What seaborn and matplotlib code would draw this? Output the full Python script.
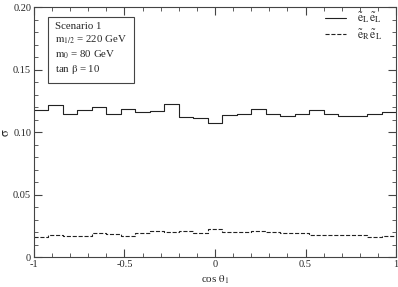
import numpy as np
import pandas as pd
import seaborn as sns
import matplotlib
matplotlib.use("Agg")
import matplotlib.pyplot as plt
from matplotlib.ticker import MultipleLocator

# 25 bins in cos(theta_1) from -1 to 1
n_bins = 25
bin_centers = np.linspace(-1, 1, n_bins + 1)[:-1] + 1.0 / n_bins

sigma_LL = [0.1178, 0.1220, 0.1148, 0.1182, 0.1204, 0.1146, 0.1188, 0.1162,
            0.1172, 0.1228, 0.1124, 0.1114, 0.1076, 0.1140, 0.1148, 0.1186,
            0.1146, 0.1132, 0.1148, 0.1178, 0.1146, 0.1132, 0.1132, 0.1148,
            0.1162]
sigma_RL = [0.0162, 0.0180, 0.0174, 0.0174, 0.0194, 0.0186, 0.0172, 0.0194,
            0.0210, 0.0202, 0.0214, 0.0198, 0.0226, 0.0204, 0.0204, 0.0214,
            0.0204, 0.0194, 0.0194, 0.0180, 0.0180, 0.0180, 0.0180, 0.0166,
            0.0172]

labels = [r"$\tilde{\mathrm{e}}_{\mathrm{L}}\,\tilde{\mathrm{e}}_{\mathrm{L}}$",
          r"$\tilde{\mathrm{e}}_{\mathrm{R}}\,\tilde{\mathrm{e}}_{\mathrm{L}}$"]
styles = ["-", "--"]

df = pd.DataFrame({
    "cos": np.concatenate([bin_centers, bin_centers]),
    "sigma": sigma_LL + sigma_RL,
    "channel": [labels[0]] * n_bins + [labels[1]] * n_bins,
})

sns.set_style("ticks")
plt.rcParams["font.family"] = ["Liberation Serif", "DejaVu Serif"]
plt.rcParams["mathtext.fontset"] = "stix"

fig = plt.figure(figsize=(3.98, 2.87), dpi=100)
ax = fig.add_axes([0.0854, 0.1028, 0.9096, 0.8711])

for lab, ls in zip(labels, styles):
    sub = df[df["channel"] == lab]
    sns.histplot(data=sub, x="cos", weights="sigma", bins=n_bins,
                 binrange=(-1, 1), element="step", fill=False,
                 color="#222222", linewidth=0.8, linestyle=ls, label=lab,
                 ax=ax)

ax.set_xlim(-1, 1)
ax.set_ylim(0, 0.2)
ax.set_xticks([-1, -0.5, 0, 0.5, 1])
ax.set_xticklabels(["-1", "-0.5", "0", "0.5", "1"])
ax.set_yticks([0, 0.05, 0.1, 0.15, 0.2])
ax.set_yticklabels(["0", "0.05", "0.10", "0.15", "0.20"])
ax.xaxis.set_minor_locator(MultipleLocator(0.1))
ax.yaxis.set_minor_locator(MultipleLocator(0.01))
ax.tick_params(which="both", direction="in", top=True, right=True,
               labelsize=7.5, pad=2, color="#444444")
ax.tick_params(which="major", length=6, width=0.8)
ax.tick_params(which="minor", length=3, width=0.6)
for s in ax.spines.values():
    s.set_linewidth(0.8)
    s.set_color("#444444")

ax.set_xlabel(r"cos $\mathrm{\theta}_{\mathrm{1}}$", fontsize=8, labelpad=3)
ax.set_ylabel(r"$\mathrm{\sigma}$", fontsize=9, rotation=90)
ax.yaxis.set_label_coords(-0.06, 0.5)

ax.text(-0.884, 0.1885,
        "Scenario 1\n$\\mathrm{m}_{\\mathrm{1/2}}$ = 220 GeV\n"
        "$\\mathrm{m}_{\\mathrm{0}}$ = 80 GeV\ntan $\\mathrm{\\beta}$ = 10",
        fontsize=7.8, va="top", ha="left", linespacing=1.28,
        bbox=dict(boxstyle="square,pad=0.65", fc="white", ec="#444444", lw=0.8))

ax.legend(loc="upper right", frameon=False, fontsize=8.5, handlelength=1.8,
          bbox_to_anchor=(0.99, 1.03), labelspacing=0.15, handletextpad=0.9)

fig.savefig("out.png", dpi=100)
